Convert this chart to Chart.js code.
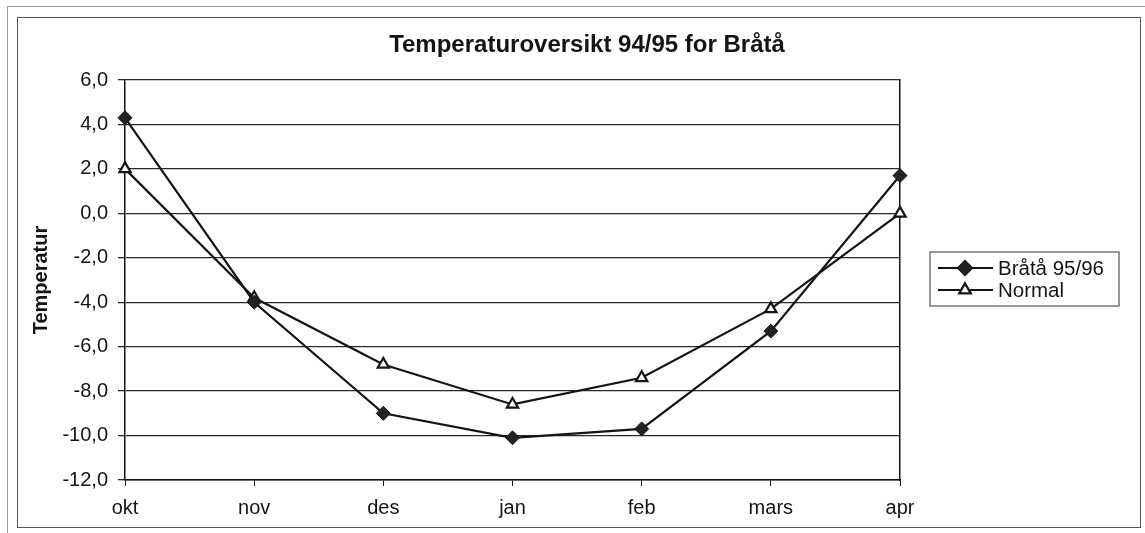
<!DOCTYPE html>
<html>
<head>
<meta charset="utf-8">
<script src="https://cdn.jsdelivr.net/npm/chart.js@4"></script>
<style>
    body { margin: 0; background: #fff; }
    #wrap { position: relative; width: 1145px; height: 533px; }
    #outer { position: absolute; left: 7px; top: 6px; width: 1138px; height: 527px;
             border-top: 1px solid #9a9a9a; border-left: 1px solid #9a9a9a; }
    #inner { position: absolute; left: 17px; top: 17px; width: 1122px; height: 509px;
             border: 1.5px solid #555; }
    canvas { position: absolute; left: 0; top: 0; }
</style>
</head>
<body>
<div id="wrap">
    <div id="outer"></div>
    <div id="inner"></div>
    <canvas id="tempChart" width="1145" height="533"></canvas>
</div>
<script>
//-----------------------------------------------------------------------------
// data
//-----------------------------------------------------------------------------
const months      = ['okt', 'nov', 'des', 'jan', 'feb', 'mars', 'apr'];
const brataValues  = [4.3, -4.0, -9.0, -10.1, -9.7, -5.3, 1.7];
const normalValues = [2.0, -3.8, -6.8, -8.6, -7.4, -4.3, 0.0];
const seriesNames  = ['Bråtå 95/96', 'Normal'];
const chartTitle   = 'Temperaturoversikt 94/95 for Bråtå';
const yAxisTitle   = 'Temperatur';

const FONT = "'Liberation Sans', Arial, sans-serif";
const INK  = '#141414';

//-----------------------------------------------------------------------------
//  excel style legend: framed box, each entry is a line with its marker
//-----------------------------------------------------------------------------
const boxedLegend = {
    id: 'boxedLegend',
    afterDraw(chart) {
        const ctx = chart.ctx;
        const box = { x: 930, y: 252, w: 189, h: 54 };
        ctx.save();
        ctx.strokeStyle = '#555';
        ctx.lineWidth = 1.2;
        ctx.strokeRect(box.x, box.y, box.w, box.h);

        chart.data.datasets.forEach((ds, i) => {
            const y = box.y + 16 + i * 22;
            ctx.strokeStyle = INK;
            ctx.lineWidth = 2;
            ctx.beginPath();
            ctx.moveTo(938, y);
            ctx.lineTo(993, y);
            ctx.stroke();

            Chart.helpers.drawPoint(ctx, {
                pointStyle: ds.pointStyle,
                radius: ds.pointRadius,
                borderWidth: ds.pointBorderWidth,
                rotation: 0
            }, 965, y);
            ctx.fillStyle = ds.pointBackgroundColor;
            ctx.strokeStyle = INK;
            ctx.lineWidth = ds.pointBorderWidth;
            ctx.fill();
            ctx.stroke();

            ctx.fillStyle = INK;
            ctx.font = `20.5px ${FONT}`;
            ctx.textBaseline = 'middle';
            ctx.fillText(ds.label, 998, y + 1);
        });
        ctx.restore();
    }
};

// Create a chart
const ctx = document.getElementById('tempChart').getContext('2d');
new Chart(ctx, {
    type: 'line',

    data: {
        labels: months,
        datasets: [
            {
                label: seriesNames[0],
                data: brataValues,
                borderColor: INK,
                borderWidth: 2.2,
                pointStyle: 'rectRot',
                pointRadius: 7,
                pointBackgroundColor: '#222',
                pointBorderColor: INK,
                pointBorderWidth: 1,
                tension: 0
            },
            {
                label: seriesNames[1],
                data: normalValues,
                borderColor: INK,
                borderWidth: 2.2,
                pointStyle: 'triangle',
                pointRadius: 6.5,
                pointBackgroundColor: '#fff',
                pointBorderColor: INK,
                pointBorderWidth: 2.2,
                tension: 0
            }
        ]
    },

    options: {
        responsive: false,
        animation: false,
        layout: {
            padding: { left: 29, right: 0, top: 19, bottom: 13 }
        },

        plugins: {
            legend: { display: false },
            tooltip: { enabled: false },
            title: {
                display: true,
                text: chartTitle,
                color: INK,
                font: { family: FONT, size: 24, weight: 'bold' },
                padding: { top: 12, bottom: 20.2 }
            }
        },

        scales: {
            x: {
                offset: false,
                grid: {
                    drawOnChartArea: false,
                    drawTicks: true,
                    tickLength: 6,
                    color: INK
                },
                border: { display: true, color: INK, width: 1.5 },
                ticks: {
                    color: INK,
                    padding: 10,
                    maxRotation: 0,
                    font: { family: FONT, size: 20 }
                },
                afterFit: scale => { scale.height = 40; }
            },

            y: {
                min: -12,
                max: 6,
                ticks: {
                    stepSize: 2,
                    color: INK,
                    padding: 10,
                    font: { family: FONT, size: 20 },
                    callback: value => value.toFixed(1).replace('.', ',')
                },
                grid: {
                    color: '#2a2a2a',
                    lineWidth: 1.3,
                    tickLength: 7
                },
                border: { display: true, color: INK, width: 1.5 },
                title: {
                    display: true,
                    text: yAxisTitle,
                    color: INK,
                    font: { family: FONT, size: 20, weight: 'bold' },
                    padding: { top: 0, bottom: 0 }
                },
                afterFit: scale => { scale.width = 96; }
            },

            // empty axis on the right, only gives the plot area its right edge
            y2: {
                position: 'right',
                min: -12,
                max: 6,
                grid: { display: false },
                ticks: { display: false },
                border: { display: true, color: INK, width: 1.5 },
                afterFit: scale => { scale.width = 245; }
            }
        }
    },
    plugins: [boxedLegend]
});
</script>
</body>
</html>
